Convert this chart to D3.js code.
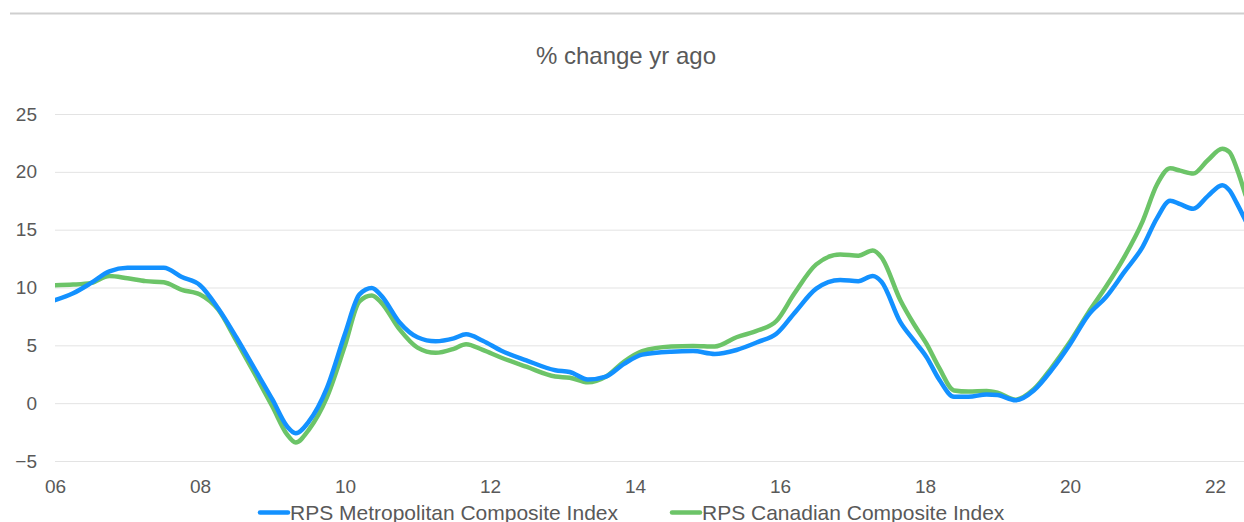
<!DOCTYPE html>
<html>
<head>
<meta charset="utf-8">
<style>
  body { margin: 0; background: #fff; }
  svg { display: block; font-family: "Liberation Sans", Arial, sans-serif; }
  .axis text { font-size: 19px; fill: #595959; }
  .axis path, .axis line { display: none; }
  .grid line { stroke: #e3e3e3; stroke-width: 1; }
  .grid path { display: none; }
  .line { fill: none; stroke-width: 4.5px; stroke-linejoin: round; stroke-linecap: round; }
</style>
</head>
<body>
<svg width="1244" height="522"></svg>
<script src="https://cdn.jsdelivr.net/npm/d3@7"></script>
<script>
  // decimal years shared by both series
  var dates = [2006.0, 2006.25, 2006.5, 2006.75, 2007.0, 2007.25, 2007.5, 2007.75,
    2008.0, 2008.25, 2008.5, 2008.75, 2009.0, 2009.2, 2009.32, 2009.5, 2009.75,
    2010.0, 2010.2, 2010.37, 2010.5, 2010.75, 2011.0, 2011.25, 2011.5, 2011.67,
    2011.9, 2012.15, 2012.5, 2012.9, 2013.1, 2013.35, 2013.6, 2013.85, 2014.1,
    2014.5, 2014.8, 2015.1, 2015.4, 2015.7, 2015.95, 2016.2, 2016.5, 2016.83,
    2017.08, 2017.28, 2017.4, 2017.66, 2017.85, 2018.02, 2018.2, 2018.4, 2018.6,
    2018.85, 2019.0, 2019.25, 2019.5, 2019.75, 2020.0, 2020.25, 2020.5, 2020.75,
    2021.0, 2021.2, 2021.38, 2021.52, 2021.7, 2021.9, 2022.1, 2022.2, 2022.3, 2022.42];

  var metro = [8.9, 9.5, 10.4, 11.4, 11.7, 11.7, 11.7, 10.9,
    10.2, 8.2, 5.7, 3.0, 0.3, -2.0, -2.6, -1.6, 1.3,
    6.0, 9.4, 9.95, 9.3, 7.0, 5.7, 5.35, 5.6, 5.95,
    5.4, 4.55, 3.7, 2.85, 2.7, 2.05, 2.3, 3.4, 4.2,
    4.45, 4.5, 4.25, 4.6, 5.3, 6.0, 7.8, 9.9, 10.65,
    10.55, 11.0, 10.5, 7.0, 5.4, 4.0, 2.0, 0.55, 0.55,
    0.75, 0.7, 0.25, 1.1, 2.9, 5.1, 7.6, 9.2, 11.35,
    13.5, 16.0, 17.5, 17.2, 16.8, 17.9, 18.85, 18.4, 17.3, 15.8];

  var canada = [10.2, 10.25, 10.4, 11.0, 10.8, 10.55, 10.45, 9.8,
    9.4, 8.1, 5.4, 2.6, -0.3, -2.7, -3.4, -2.3, 0.5,
    5.0, 8.8, 9.3, 8.7, 6.4, 4.8, 4.35, 4.7, 5.1,
    4.6, 3.95, 3.15, 2.3, 2.2, 1.8, 2.3, 3.6, 4.5,
    4.9, 4.95, 4.9, 5.7, 6.3, 7.1, 9.5, 12.0, 12.85,
    12.75, 13.2, 12.6, 8.9, 6.8, 5.15, 3.0, 1.1, 1.0,
    1.05, 0.9, 0.3, 1.2, 3.1, 5.3, 7.8, 10.1, 12.65,
    15.7, 18.9, 20.3, 20.1, 19.85, 21.0, 22.0, 21.7, 20.3, 18.0];

  var yTicks = [-5, 0, 5, 10, 15, 20, 25];
  var xTicks = [2006, 2008, 2010, 2012, 2014, 2016, 2018, 2020, 2022];

  var series = [
    {name: "RPS Metropolitan Composite Index", values: metro, color: "#1391ff"},
    {name: "RPS Canadian Composite Index", values: canada, color: "#6cc468"}
  ];

  var svg = d3.select("svg"),
      plotLeft = 55, plotRight = 1244, plotTop = 114, plotBottom = 461;

  var x = d3.scaleLinear().domain([2006, 2022.4]).range([plotLeft, plotRight]);
  var y = d3.scaleLinear().domain([-5, 25]).range([plotBottom, plotTop]);

  // thin gray rule at top
  svg.append("line")
    .attr("x1", 10).attr("x2", 1244)
    .attr("y1", 13.5).attr("y2", 13.5)
    .attr("stroke", "#cfcfcf").attr("stroke-width", 2);

  svg.append("text")
    .attr("x", 626).attr("y", 63.5)
    .attr("text-anchor", "middle")
    .style("font-size", "24px").style("fill", "#595959")
    .text("% change yr ago");

  // gridlines
  svg.append("g")
    .attr("class", "grid")
    .attr("transform", "translate(" + plotLeft + ",0)")
    .call(d3.axisLeft(y).tickValues(yTicks).tickSize(-(plotRight - plotLeft)).tickFormat(""));

  svg.append("g")
    .attr("class", "axis")
    .attr("transform", "translate(" + (plotLeft - 18) + ",0)")
    .call(d3.axisLeft(y).tickValues(yTicks).tickSize(0).tickPadding(0));

  svg.append("g")
    .attr("class", "axis")
    .attr("transform", "translate(0,493)")
    .call(d3.axisBottom(x).tickValues(xTicks).tickSize(0).tickPadding(0)
      .tickFormat(function(d) { return d3.format("02")(d % 100); }))
    .selectAll("text").attr("y", 0).attr("dy", 0);

  var line = d3.line()
    .x(function(d, i) { return x(dates[i]); })
    .y(function(d) { return y(d); })
    .curve(d3.curveMonotoneX);

  svg.append("defs").append("clipPath").attr("id", "clip")
    .append("rect").attr("x", plotLeft).attr("y", 0).attr("width", plotRight - plotLeft).attr("height", 522);

  svg.append("g").attr("clip-path", "url(#clip)")
    .selectAll(".line")
    .data(series.slice().reverse())
    .enter().append("path")
    .attr("class", "line")
    .attr("stroke", function(d) { return d.color; })
    .attr("d", function(d) { return line(d.values); });

  // legend
  var legendX = [258, 670];
  var lg = svg.selectAll(".legend")
    .data(series)
    .enter().append("g")
    .attr("class", "legend")
    .attr("transform", function(d, i) { return "translate(" + legendX[i] + ",512.5)"; });

  lg.append("line")
    .attr("x1", 2).attr("x2", 30)
    .attr("stroke", function(d) { return d.color; })
    .attr("stroke-width", 4.5).attr("stroke-linecap", "round");

  lg.append("text")
    .attr("x", 32).attr("y", 7)
    .style("font-size", "21px").style("fill", "#595959")
    .text(function(d) { return d.name; });
</script>
</body>
</html>
